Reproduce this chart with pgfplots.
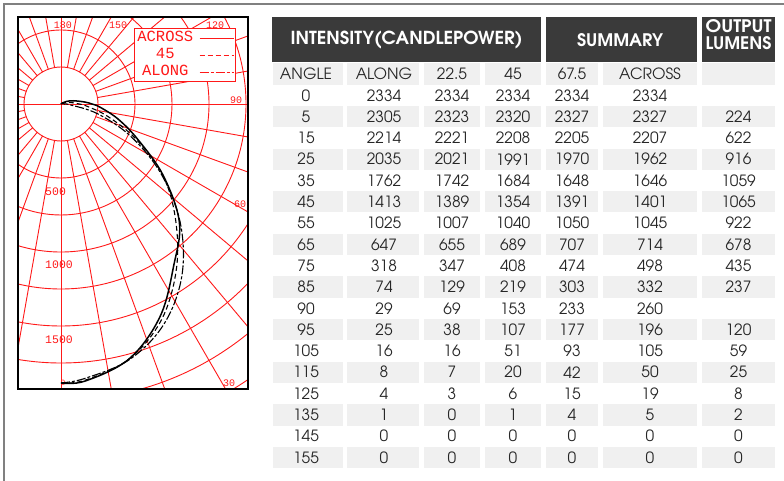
\documentclass[border=0pt]{standalone}
\usepackage{pgfplots}
\pgfplotsset{compat=1.18}
\usepackage{pgfplotstable}
\usepackage{graphicx}
\usepackage{fontspec}
\setmainfont{TeX Gyre Adventor}
\newfontfamily\plotfont{Liberation Mono}

\definecolor{hdr}{RGB}{58,58,58}
\definecolor{band}{RGB}{240,240,240}
\definecolor{gridred}{RGB}{255,25,25}
\definecolor{framegray}{RGB}{128,128,128}

\pgfplotstableread{
angle along a225 a45 a675 across
0   2334 2334 2334 2334 2334
5   2305 2323 2320 2327 2327
15  2214 2221 2208 2205 2207
25  2035 2021 1991 1970 1962
35  1762 1742 1684 1648 1646
45  1413 1389 1354 1391 1401
55  1025 1007 1040 1050 1045
65  647  655  689  707  714
75  318  347  408  474  498
85  74   129  219  303  332
90  29   69   153  233  260
95  25   38   107  177  196
105 16   16   51   93   105
115 8    7    20   42   50
125 4    3    6    15   19
135 1    0    1    4    5
145 0    0    0    0    0
155 0    0    0    0    0
}\cpdata

\begin{document}
\begin{tikzpicture}
\path[use as bounding box] (0,0) rectangle (784pt,-481pt);
\begin{scope}[x=1pt,y=-1pt]
  % outer frame
  \draw[framegray, line width=1.3pt] (4,481) -- (4,4) -- (784,4);
  % polar grid
  \begin{scope}
    \clip (18,17) rectangle (248,389);
    \fill[white] (18,17) rectangle (248,389);
    \foreach \k in {1,...,10}
      \draw[gridred, line width=0.9pt] (61,104) circle[radius={37*\k pt}];
    \foreach \t in {10,20,...,350}
      \draw[gridred, line width=0.9pt] ({61+37*sin(\t)},{104+37*cos(\t)}) -- ({61+450*sin(\t)},{104+450*cos(\t)});
    \draw[gridred, line width=0.9pt] (61,17) -- (61,389);
    \draw[gridred, line width=0.9pt] (18,104) -- (248,104);
  \end{scope}
  % polar labels
  \begin{scope}[every node/.style={text=gridred, inner sep=0pt, font=\plotfont\fontsize{10}{10}\selectfont}]
    \node at (63,25) {180};
    \node at (118,25) {150};
    \node at (215,25) {120};
    \node at (236,100) {90};
    \node at (240,204) {60};
    \node at (229,383) {30};
    \node[font=\plotfont\fontsize{8}{8}\selectfont] at (63,383) {0};
    \node[anchor=west, font=\plotfont\fontsize{11.5}{11.5}\selectfont] at (45,192) {500};
    \node[anchor=west, font=\plotfont\fontsize{11.5}{11.5}\selectfont] at (45,265) {1000};
    \node[anchor=west, font=\plotfont\fontsize{11.5}{11.5}\selectfont] at (45,340) {1500};
  \end{scope}

  % table header
  \fill[hdr] (272,17) rectangle (541,62);
  \fill[hdr] (546,17) rectangle (697,62);
  \fill[hdr] (702,17) rectangle (775,62);
  \begin{scope}[every node/.style={text=white, inner sep=0pt, font=\bfseries\fontsize{15}{15}\selectfont}]
    \node at (406.5,40) {\resizebox{232pt}{13.5pt}{INTENSITY(CANDLEPOWER)}};
    \node at (620,40) {\resizebox{86pt}{13pt}{SUMMARY}};
    \node at (738.5,26.5) {\resizebox{66pt}{13pt}{OUTPUT}};
    \node at (738.5,43) {\resizebox{66pt}{13pt}{LUMENS}};
  \end{scope}

  % gray bands
  \foreach \k in {0,2,...,18} {
    \foreach \a/\b in {273/343,347/419,424/480,485/541,546/598,603/697,702/775}
      \fill[band] (\a,{63.4+21.3*\k}) rectangle (\b,{84.7+21.3*\k});
  }
  % table text
  \begin{scope}[every node/.style={inner sep=0pt, font=\fontsize{15.5}{15.5}\selectfont, text=black!85}]
  \foreach \k/\vA/\vB/\vC/\vD/\vE/\vF/\vG in {
    0/ANGLE/ALONG/22.5/45/67.5/ACROSS/{},
    1/0/2334/2334/2334/2334/2334/{},
    2/5/2305/2323/2320/2327/2327/224,
    3/15/2214/2221/2208/2205/2207/622,
    4/25/2035/2021/1991/1970/1962/916,
    5/35/1762/1742/1684/1648/1646/1059,
    6/45/1413/1389/1354/1391/1401/1065,
    7/55/1025/1007/1040/1050/1045/922,
    8/65/647/655/689/707/714/678,
    9/75/318/347/408/474/498/435,
    10/85/74/129/219/303/332/237,
    11/90/29/69/153/233/260/{},
    12/95/25/38/107/177/196/120,
    13/105/16/16/51/93/105/59,
    14/115/8/7/20/42/50/25,
    15/125/4/3/6/15/19/8,
    16/135/1/0/1/4/5/2,
    17/145/0/0/0/0/0/0,
    18/155/0/0/0/0/0/0} {
    \node at (306,{74+21.3*\k}) {\vA};
    \node at (384,{74+21.3*\k}) {\vB};
    \node at (452,{74+21.3*\k}) {\vC};
    \node at (513,{74+21.3*\k}) {\vD};
    \node at (572,{74+21.3*\k}) {\vE};
    \node at (650,{74+21.3*\k}) {\vF};
    \node at (738.5,{74+21.3*\k}) {\vG};
  }
  \end{scope}
\end{scope}

\begin{axis}[
  at={(18pt,-389pt)}, anchor=south west,
  scale only axis, width=230pt, height=372pt,
  xmin=-43, xmax=187, ymin=-285, ymax=87,
  ticks=none,
  axis line style={black, line width=1.3pt},
  legend style={at={(rel axis cs:0.504,0.970)}, anchor=north west,
    draw=gridred, line width=0.9pt, fill=white, text=gridred,
    font=\plotfont\fontsize{15.5}{15.5}\selectfont,
    inner sep=1pt, row sep=0pt, column sep=4pt,
    nodes={inner sep=2pt, text height=10pt, text depth=3pt}},
  legend cell align=center,
  legend plot pos=right,
  legend image code/.code={\draw[#1, line width=0.9pt, gridred] (0pt,0pt) -- (34pt,0pt);},
]
\addplot[black, line width=1.5pt, smooth, tension=0.6] table[
  x expr={0.1195*\thisrow{across}*sin(\thisrow{angle})},
  y expr={-0.1195*\thisrow{across}*cos(\thisrow{angle})}] {\cpdata};
\addlegendentry{ACROSS}
\addplot[black, line width=1.1pt, dash pattern=on 5pt off 3pt, smooth, tension=0.6] table[
  x expr={0.1195*\thisrow{a45}*sin(\thisrow{angle})},
  y expr={-0.1195*\thisrow{a45}*cos(\thisrow{angle})}] {\cpdata};
\addlegendentry{45}
\addplot[black, line width=1.1pt, dash pattern=on 9pt off 2pt on 3pt off 2pt, smooth, tension=0.6] table[
  x expr={0.1195*\thisrow{along}*sin(\thisrow{angle})},
  y expr={-0.1195*\thisrow{along}*cos(\thisrow{angle})}] {\cpdata};
\addlegendentry{ALONG}
\end{axis}
\end{tikzpicture}
\end{document}
